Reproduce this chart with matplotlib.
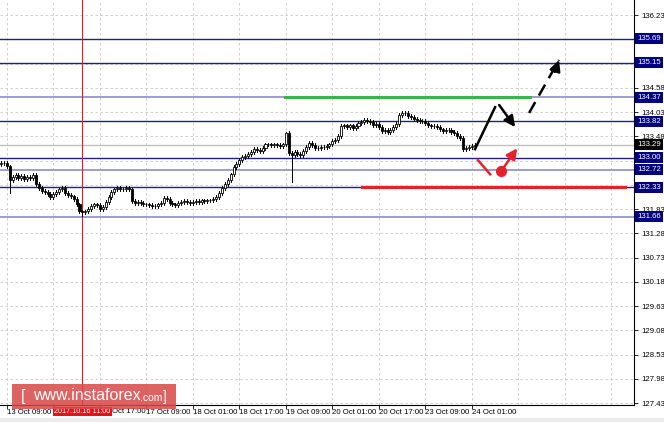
import numpy as np
import matplotlib
matplotlib.use("Agg")
import matplotlib.pyplot as plt
from matplotlib.patches import Rectangle

plt.rcParams['font.family'] = ['Liberation Sans', 'DejaVu Sans']

# hourly closes, bar index 0 = 13 Oct 07:00
closes = [132.87, 132.87, 132.80, 132.49, 132.56, 132.60, 132.53, 132.58, 132.51, 132.56,
          132.53, 132.60, 132.40, 132.31, 132.24, 132.22, 132.17, 132.10, 132.17, 132.22,
          132.28, 132.31, 132.19, 132.15, 132.12, 132.06, 131.94, 131.78, 131.76, 131.78,
          131.83, 131.90, 131.94, 131.92, 131.83, 131.88, 131.99, 132.10, 132.22, 132.28,
          132.31, 132.28, 132.28, 132.31, 132.28, 132.01, 131.97, 131.99, 131.97, 131.94,
          131.94, 131.92, 131.90, 131.90, 131.94, 131.97, 132.08, 132.06, 131.97, 131.94,
          131.92, 131.97, 131.99, 132.01, 131.99, 131.97, 131.99, 132.01, 131.99, 132.03,
          132.01, 132.03, 132.03, 132.06, 132.10, 132.19, 132.31, 132.40, 132.49, 132.62,
          132.78, 132.85, 132.94, 133.01, 133.03, 133.08, 133.12, 133.19, 133.17, 133.15,
          133.21, 133.30, 133.30, 133.28, 133.30, 133.28, 133.26, 133.30, 133.55, 133.10,
          133.05, 133.12, 133.08, 133.05, 133.15, 133.24, 133.33, 133.28, 133.21, 133.21,
          133.24, 133.24, 133.26, 133.30, 133.37, 133.40, 133.49, 133.71, 133.73, 133.69,
          133.73, 133.67, 133.71, 133.78, 133.80, 133.85, 133.83, 133.80, 133.73, 133.76,
          133.69, 133.60, 133.62, 133.58, 133.62, 133.69, 133.76, 133.96, 134.01, 134.01,
          133.94, 133.92, 133.87, 133.85, 133.83, 133.83, 133.78, 133.73, 133.71, 133.71,
          133.69, 133.64, 133.60, 133.62, 133.62, 133.58, 133.55, 133.49, 133.44, 133.19,
          133.21, 133.24, 133.26, 133.29]
first_open = 132.85
# long shadows: bar -> (high, low)
long_wicks = {3: (None, 132.19), 28: (None, 131.67), 98: (133.58, None), 100: (None, 132.44)}

time_ticks = [2, 18, 34, 50, 66, 82, 98, 114, 130, 146, 162]
time_labels = ["13 Oct 09:00", "", "", "17 Oct 09:00", "18 Oct 01:00", "18 Oct 17:00",
               "19 Oct 09:00", "20 Oct 01:00", "20 Oct 17:00", "23 Oct 09:00", "24 Oct 01:00"]
hidden_label = "Oct 17:00"   # "16 Oct 17:00", partly under the cursor label
cursor_bar = 28
cursor_label = "2017.10.16 11:00"

scale_ticks = [136.23, 135.68, 135.13, 134.58, 134.03, 133.48, 132.93, 132.38, 131.83,
               131.28, 130.73, 130.18, 129.63, 129.08, 128.53, 127.98, 127.43]
scale_labels = ["136.23", "", "", "134.58", "134.03", "133.48", "", "", "131.83",
                "131.28", "130.73", "130.18", "129.63", "129.08", "128.53", "127.98", "127.43"]

levels = [135.69, 135.15, 134.37, 133.82, 133.00, 132.72, 132.33, 131.66]
level_light = [False, False, True, False, False, True, False, True]
last_price = 133.29

green_level = (97.7, 182.0, 134.37)
red_level = (124.2, 214.7, 132.33)
up_path = [(163.1, 133.19), (170.0, 134.14)]
down_arrow = [(171.4, 134.19), (176.9, 133.69)]
dash_arrow = [(181.7, 134.01), (192.0, 135.21)]
red_path = [(164.1, 132.94), (168.3, 132.62)]
red_arrow = [(172.1, 132.69), (177.6, 133.21)]

fig = plt.figure(figsize=(6.64, 4.22), dpi=100)
ax = fig.add_axes([0, 1 - 405 / 422, 634 / 664, 405 / 422])
ax.set_xlim(-0.35, 217.8)
ax.set_ylim(127.39, 136.57)

# grid
for t in scale_ticks:
    ax.axhline(t, color='#c8c8c8', lw=0.6, ls=(0, (3, 3)), zorder=0)
for t in range(2, 218, 16):
    ax.axvline(t, color='#c8c8c8', lw=0.6, ls=(0, (3, 3)), zorder=0)

# levels
for lv, light in zip(levels, level_light):
    ax.axhline(lv, color='#8c8cc8' if light else '#202088', lw=1.2 if light else 1.0, zorder=1)
ax.axhline(last_price, color='#c0c0c0', lw=1.0, zorder=1)

ax.axvline(cursor_bar, color='#e02020', lw=0.8, zorder=1)

# candles
opens = [first_open] + closes[:-1]
for i, (o, c) in enumerate(zip(opens, closes)):
    hi = max(o, c) + 0.04
    lo = min(o, c) - 0.04
    if i in long_wicks:
        h, l = long_wicks[i]
        hi = h if h else hi
        lo = l if l else lo
    ax.plot([i, i], [lo, hi], color='black', lw=0.7, zorder=3)
    bull = c >= o
    ax.add_patch(Rectangle((i - 0.35, min(o, c)), 0.7, max(abs(c - o), 0.004),
                           fc='white' if bull else 'black', ec='black', lw=0.6, zorder=4))

# drawn levels
ax.plot(green_level[:2], [green_level[2]] * 2, color='#3cb44b', lw=2.2, zorder=5)
ax.plot(red_level[:2], [red_level[2]] * 2, color='#e8202a', lw=2.2, zorder=5)

# forecast arrows
ax.plot(*zip(*up_path), color='black', lw=1.8, zorder=6)
ax.annotate('', xy=down_arrow[1], xytext=down_arrow[0],
            arrowprops=dict(arrowstyle='-|>', color='black', lw=1.8, mutation_scale=16,
                            shrinkA=0, shrinkB=0), zorder=6)
ax.plot(*zip(*dash_arrow), color='black', lw=1.8, ls=(0, (5, 3)), zorder=6)
ax.annotate('', xy=dash_arrow[1], xytext=(dash_arrow[1][0] - 1.5, dash_arrow[1][1] - 0.27),
            arrowprops=dict(arrowstyle='-|>', color='black', lw=1.8, mutation_scale=16,
                            shrinkA=0, shrinkB=0), zorder=6)
ax.plot(*zip(*red_path), color='#e8202a', lw=1.8, zorder=6)
ax.annotate('', xy=red_arrow[1], xytext=red_arrow[0],
            arrowprops=dict(arrowstyle='-|>', color='#e8202a', lw=1.8, mutation_scale=16,
                            shrinkA=0, shrinkB=0), zorder=6)
ax.plot(*red_arrow[0], 'o', color='#e8202a', ms=7, zorder=7)

# axes look
for s in ['top', 'left']:
    ax.spines[s].set_visible(False)
ax.yaxis.tick_right()
ax.set_yticks(scale_ticks)
ax.set_yticklabels(scale_labels)
ax.tick_params(axis='y', length=3, width=0.6, pad=2, labelsize=5.6, colors='black')
ax.set_xticks(time_ticks)
ax.set_xticklabels(time_labels)
for lab in ax.get_xticklabels():
    lab.set_horizontalalignment('left')
ax.tick_params(axis='x', length=3, width=0.6, pad=0, labelsize=5.6)

ytr = ax.get_yaxis_transform()
for lv in levels:
    ax.text(1.005, lv, f"{lv:.2f}", transform=ytr, ha='left', va='center', fontsize=5.6,
            color='white', bbox=dict(boxstyle='square,pad=0.25', fc='#000080', ec='none'))
ax.text(1.005, last_price, f"{last_price:.2f}", transform=ytr, ha='left', va='center',
        fontsize=5.6, color='white', bbox=dict(boxstyle='square,pad=0.25', fc='black', ec='none'))

xtr = ax.get_xaxis_transform()
ax.text(cursor_bar, -0.016, cursor_label, transform=xtr, ha='center', va='center', fontsize=5.2,
        color='white', bbox=dict(boxstyle='square,pad=0.15', fc='#e8101a', ec='none'), zorder=8)
ax.text(38.3, -0.016, hidden_label, transform=xtr, ha='left', va='center', fontsize=5.6)

# watermark
fig.add_artist(Rectangle((12 / 664, 1 - 409 / 422), 164 / 664, 25 / 422, transform=fig.transFigure,
                         fc='#d84848', ec='none', alpha=0.85, zorder=10))
fig.text(21 / 664, 1 - 397 / 422, "[", color='white', fontsize=12, va='center', zorder=11)
fig.text(33 / 664, 1 - 396 / 422, "www.instaforex", color='white', fontsize=11.5, va='center', zorder=11)
fig.text(140 / 664, 1 - 398 / 422, ".com", color='white', fontsize=7.5, va='center', zorder=11)
fig.text(163 / 664, 1 - 397 / 422, "]", color='white', fontsize=10, va='center', zorder=11)

fig.add_artist(Rectangle((0, 0), 1, 4 / 422, transform=fig.transFigure, fc='#ececec', ec='none'))

fig.savefig("out.png", dpi=100)
